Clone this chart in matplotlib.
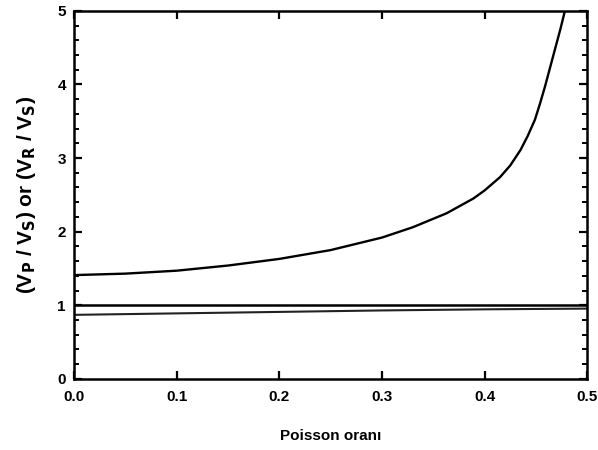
import matplotlib
matplotlib.use("Agg")
import matplotlib.pyplot as plt
from matplotlib.ticker import MultipleLocator

# Poisson ratio samples and velocity ratios
nu_p = [0.0, 0.05, 0.10, 0.15, 0.20, 0.25, 0.30, 0.33, 0.363, 0.389, 0.40,
        0.415, 0.425, 0.435, 0.442, 0.449, 0.454, 0.459, 0.464, 0.469,
        0.474, 0.4786, 0.481]
vp_vs = [1.41, 1.43, 1.47, 1.54, 1.63, 1.75, 1.92, 2.06, 2.25, 2.45, 2.56,
         2.74, 2.90, 3.11, 3.30, 3.52, 3.74, 3.98, 4.24, 4.50,
         4.76, 5.02, 5.16]

nu_r = [0.0, 0.1, 0.2, 0.3, 0.4, 0.5]
vr_vs = [0.87, 0.89, 0.91, 0.93, 0.945, 0.955]

nu_s = [0.0, 0.5]
vs_vs = [1.0, 1.0]

x_ticks = [0.0, 0.1, 0.2, 0.3, 0.4, 0.5]
x_labels = ["0.0", "0.1", "0.2", "0.3", "0.4", "0.5"]
y_ticks = [0, 1, 2, 3, 4, 5]

plt.rcParams['font.family'] = ['Liberation Sans', 'DejaVu Sans']
plt.rcParams['mathtext.default'] = 'bf'

fig = plt.figure(figsize=(5.98, 4.5), dpi=100)
ax = fig.add_axes([0.124, 0.158, 0.858, 0.818])

ax.plot(nu_p, vp_vs, color="black", lw=1.7, solid_joinstyle="round")
ax.plot(nu_s, vs_vs, color="black", lw=1.8)
ax.plot(nu_r, vr_vs, color="#222222", lw=1.5)

ax.set_xlim(0, 0.5)
ax.set_ylim(0, 5)
ax.set_xticks(x_ticks)
ax.set_xticklabels(x_labels)
ax.set_yticks(y_ticks)
ax.yaxis.set_minor_locator(MultipleLocator(0.2))

for s in ax.spines.values():
    s.set_linewidth(1.8)

ax.tick_params(which="major", direction="in", length=6, width=1.6,
               top=True, right=True, labelsize=11)
ax.tick_params(axis="x", which="major", pad=8)
ax.tick_params(axis="y", which="major", pad=6)
ax.tick_params(which="minor", direction="in", length=3.5, width=1.4,
               left=True, right=True)
for lab in ax.get_xticklabels() + ax.get_yticklabels():
    lab.set_fontweight("bold")

ax.set_xlabel("Poisson oranı", fontsize=11, fontweight="bold", labelpad=18)
ax.set_ylabel(r"(V$_P$ / V$_S$) or (V$_R$ / V$_S$)",
              fontsize=15, fontweight="bold", labelpad=14)

fig.savefig("out.png", dpi=100)
